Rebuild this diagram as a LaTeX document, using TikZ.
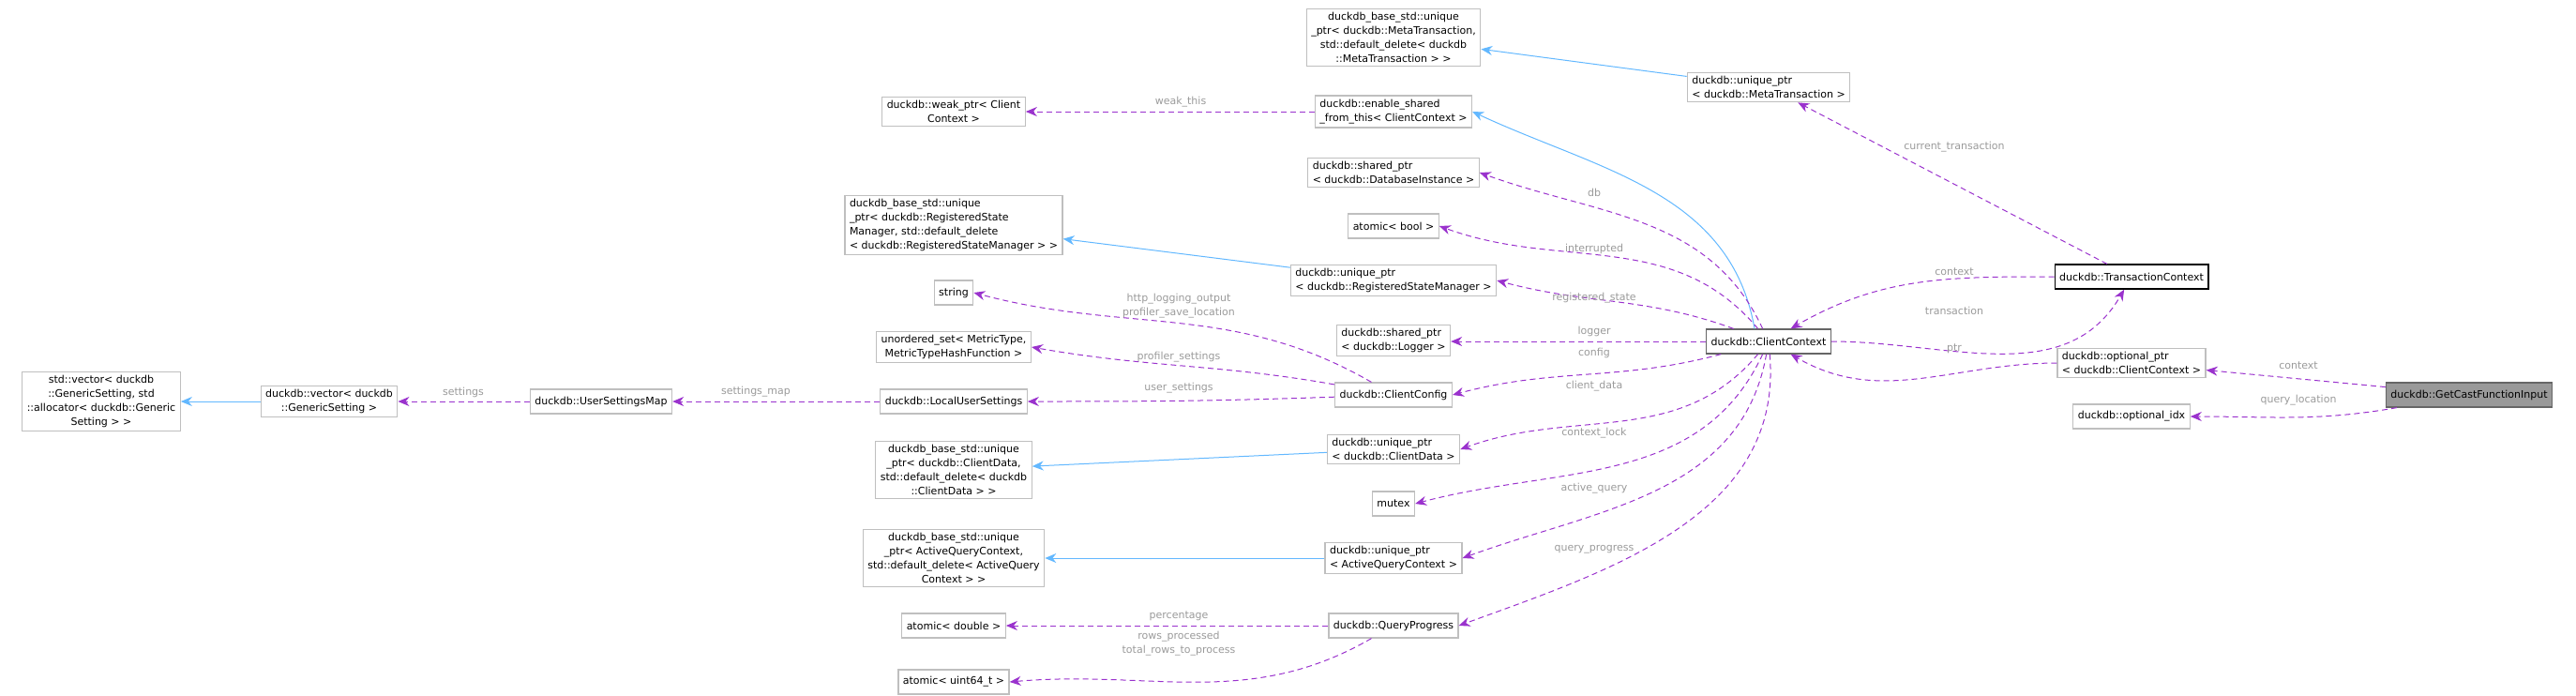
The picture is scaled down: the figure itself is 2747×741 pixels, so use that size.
\documentclass[tikz,border=0pt]{standalone}
\usepackage{fontspec}
\setmainfont{DejaVu Sans}
\usetikzlibrary{arrows.meta}
\definecolor{ref}{HTML}{9A32CD}
\definecolor{inh}{HTML}{63B8FF}
\definecolor{lblc}{HTML}{9A9A9A}
\definecolor{bd}{HTML}{BFBFBF}
\begin{document}
\begin{tikzpicture}[x=0.5pt,y=-0.5pt,
  box/.style={draw=bd,line width=0.6pt,fill=white,inner xsep=2.5pt,inner ysep=2pt,minimum height=13pt,font=\fontsize{5.5}{7.5}\selectfont},
  bl/.style={box,align=left},
  bc/.style={box,align=center},
  refe/.style={draw=ref,dashed,dash pattern=on 3pt off 2pt,line width=0.5pt,-{Stealth[length=6pt,width=5pt]}},
  inhe/.style={draw=inh,line width=0.5pt,-{Stealth[length=6pt,width=5pt]}},
  lbl/.style={text=lblc,font=\fontsize{5.5}{7.5}\selectfont,align=center,inner sep=0pt}]
\useasboundingbox (0,0) rectangle (2747,741);
% nodes
\node[bc] (stdvec) at (108,428) {std::vector< duckdb\\::GenericSetting, std\\::allocator< duckdb::Generic\\Setting > >};
\node[bc] (dvec) at (351,428) {duckdb::vector< duckdb\\::GenericSetting >};
\node[box] (usm) at (641,428) {duckdb::UserSettingsMap};
\node[box] (lus) at (1017,428) {duckdb::LocalUserSettings};
\node[bc] (weak) at (1017,119) {duckdb::weak\_ptr< Client\\Context >};
\node[bl] (regbase) at (1017,240) {duckdb\_base\_std::unique\\\_ptr< duckdb::RegisteredState\\Manager, std::default\_delete\\< duckdb::RegisteredStateManager > >};
\node[box] (string) at (1017,312) {string};
\node[bc] (unord) at (1017,370) {unordered\_set< MetricType,\\MetricTypeHashFunction >};
\node[bc] (cdbase) at (1017,501) {duckdb\_base\_std::unique\\\_ptr< duckdb::ClientData,\\std::default\_delete< duckdb\\::ClientData > >};
\node[bc] (aqbase) at (1017,595) {duckdb\_base\_std::unique\\\_ptr< ActiveQueryContext,\\std::default\_delete< ActiveQuery\\Context > >};
\node[box] (adouble) at (1017,667) {atomic< double >};
\node[box] (auint) at (1017,727) {atomic< uint64\_t >};
\node[bc] (metabase) at (1486,40) {duckdb\_base\_std::unique\\\_ptr< duckdb::MetaTransaction,\\std::default\_delete< duckdb\\::MetaTransaction > >};
\node[bl] (uptrmeta) at (1886,93) {duckdb::unique\_ptr\\< duckdb::MetaTransaction >};
\node[bl] (esft) at (1486,119) {duckdb::enable\_shared\\\_from\_this< ClientContext >};
\node[bl] (sptrdb) at (1486,184) {duckdb::shared\_ptr\\< duckdb::DatabaseInstance >};
\node[box] (abool) at (1486,241) {atomic< bool >};
\node[bl] (uptrreg) at (1486,299) {duckdb::unique\_ptr\\< duckdb::RegisteredStateManager >};
\node[bl] (sptrlog) at (1486,363) {duckdb::shared\_ptr\\< duckdb::Logger >};
\node[box] (cconfig) at (1486,421) {duckdb::ClientConfig};
\node[bl] (uptrcd) at (1486,479) {duckdb::unique\_ptr\\< duckdb::ClientData >};
\node[box] (mutex) at (1486,537) {mutex};
\node[bl] (uptraq) at (1486,595) {duckdb::unique\_ptr\\< ActiveQueryContext >};
\node[box] (qprog) at (1486,667) {duckdb::QueryProgress};
\node[box,draw=black!60] (cc) at (1886,364) {duckdb::ClientContext};
\node[box,draw=black] (tc) at (2273,295) {duckdb::TransactionContext};
\node[bl] (optptr) at (2273,387) {duckdb::optional\_ptr\\< duckdb::ClientContext >};
\node[box] (optidx) at (2273,444) {duckdb::optional\_idx};
\node[box,draw=black!60,fill=black!40] (gcfi) at (2633,421) {duckdb::GetCastFunctionInput};
% inheritance
\draw[inhe] (dvec) -- (stdvec);
\draw[inhe] (uptrmeta) -- (metabase);
\draw[inhe] (uptrreg) -- (regbase);
\draw[inhe] (uptrcd) -- (cdbase);
\draw[inhe] (uptraq) -- (aqbase);
\draw[inhe] (cc.north) ++(-15,0) coordinate (ccn) (ccn) to[out=100,in=-25] (esft.east);
% references
\draw[refe] (usm) -- (dvec);
\node[lbl] at (494,418) {settings};
\draw[refe] (lus) -- (usm);
\node[lbl] at (806,418) {settings\_map};
\draw[refe] (esft) -- (weak);
\node[lbl] at (1259,109) {weak\_this};
\draw[refe] (tc) -- (uptrmeta);
\node[lbl] at (2084,157) {current\_transaction};
\draw[refe] (cc) to[out=115,in=-20] (sptrdb.east);
\node[lbl] at (1700,205) {db};
\draw[refe] (cc) to[out=130,in=-20] (abool.east);
\node[lbl] at (1700,265) {interrupted};
\draw[refe] (cc) to[out=160,in=-15] (uptrreg.east);
\node[lbl] at (1700,318) {registered\_state};
\draw[refe] (cc) -- (sptrlog.east |- cc);
\node[lbl] at (1700,353) {logger};
\draw[refe] (cc) to[out=195,in=15] (cconfig.east);
\node[lbl] at (1700,376) {config};
\draw[refe] (cc) to[out=-130,in=20] (uptrcd.east);
\node[lbl] at (1700,412) {client\_data};
\draw[refe] (cc) to[out=-115,in=15] (mutex.east);
\node[lbl] at (1700,462) {context\_lock};
\draw[refe] (cc) to[out=-100,in=20] (uptraq.east);
\node[lbl] at (1700,521) {active\_query};
\draw[refe] (cc) to[out=-85,in=20] (qprog.east);
\node[lbl] at (1700,586) {query\_progress};
\draw[refe] (cconfig) to[out=150,in=-15] (string.east);
\node[lbl] at (1257,326) {http\_logging\_output\\profiler\_save\_location};
\draw[refe] (cconfig) to[out=170,in=-10] (unord.east);
\node[lbl] at (1257,381) {profiler\_settings};
\draw[refe] (cconfig) to[out=182,in=0] (lus.east);
\node[lbl] at (1257,414) {user\_settings};
\draw[refe] (qprog) -- (adouble);
\node[lbl] at (1257,657) {percentage};
\draw[refe] (qprog) to[out=-150,in=5] (auint.east);
\node[lbl] at (1257,686) {rows\_processed\\total\_rows\_to\_process};
\draw[refe] (tc) to[out=180,in=30] (cc);
\node[lbl] at (2084,290) {context};
\draw[refe] (cc) to[out=0,in=-120] (tc);
\node[lbl] at (2084,331) {transaction};
\draw[refe] (optptr) to[out=180,in=-30] (cc);
\node[lbl] at (2084,372) {ptr};
\draw[refe] (gcfi) -- (optptr);
\node[lbl] at (2451,390) {context};
\draw[refe] (gcfi) to[out=190,in=0] (optidx);
\node[lbl] at (2451,427) {query\_location};
\end{tikzpicture}
\end{document}
